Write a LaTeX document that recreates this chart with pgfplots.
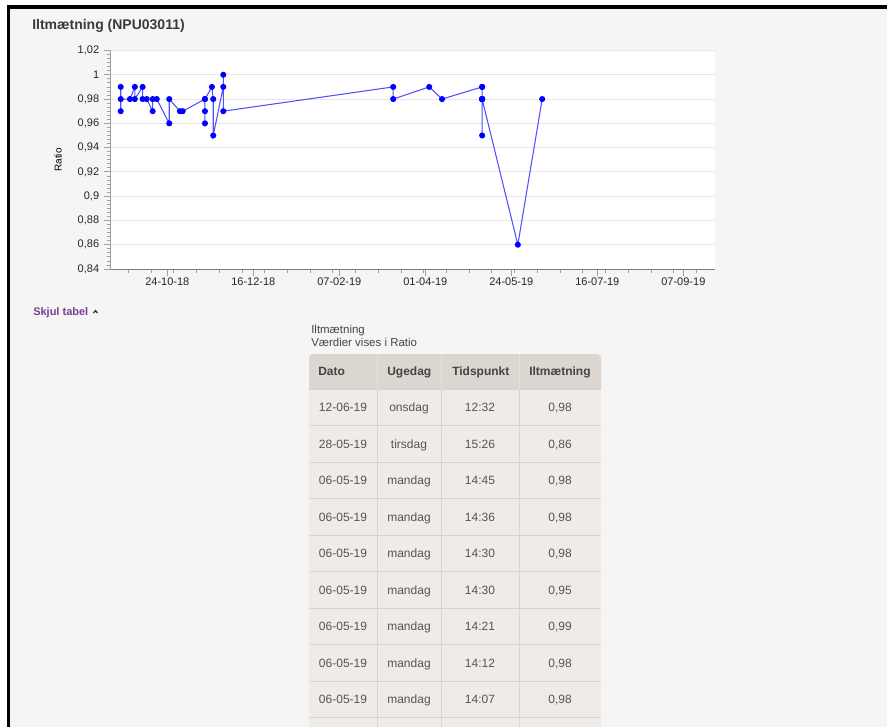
\documentclass[border=0pt]{standalone}
\usepackage{fontspec}
\setmainfont{Liberation Sans}
\usepackage{pgfplots}
\pgfplotsset{compat=1.18}
\definecolor{pagebg}{HTML}{F5F5F3}
\definecolor{titlec}{HTML}{3A3A3A}
\definecolor{purp}{HTML}{7B3C9C}
\definecolor{hdr}{HTML}{DBD6CF}
\definecolor{hdrsep}{HTML}{E6E1DB}
\definecolor{rowbg}{HTML}{EFEBE8}
\definecolor{sep}{HTML}{D9D3CC}
\definecolor{txt}{HTML}{555555}
\definecolor{hdrtxt}{HTML}{444444}
\definecolor{linec}{RGB}{80,80,255}
\definecolor{markc}{RGB}{0,0,255}
\definecolor{gridc}{HTML}{E6E6E6}
\definecolor{tickc}{HTML}{A0A0A0}
\begin{document}
\begin{tikzpicture}
\begin{scope}[x=0.75pt,y=-0.75pt]
% page
\fill[white] (0,0) rectangle (887,727);
\fill[pagebg] (10,9) rectangle (887,727);
\fill[black] (7,5) rectangle (887,9);
\fill[black] (7,5) rectangle (10,727);
% title
\node[anchor=base west, inner sep=0, font=\bfseries\fontsize{10.5pt}{12pt}\selectfont, text=titlec] at (32,29.5) {Iltmætning (NPU03011)};
% y label
\node[rotate=90, inner sep=0, font=\fontsize{7.5pt}{8pt}\selectfont, text=black] at (58,160) {Ratio};
% Skjul tabel
\node[anchor=base west, inner sep=0, font=\bfseries\fontsize{8.25pt}{9pt}\selectfont, text=purp] at (33,315) {Skjul tabel};
\draw[line width=0.9pt, black!80] (93.5,313) -- (95.5,310.5) -- (97.5,313);
% caption
\node[anchor=base west, inner sep=0, font=\fontsize{8.6pt}{9pt}\selectfont, text=hdrtxt] at (311,333) {Iltmætning};
\node[anchor=base west, inner sep=0, font=\fontsize{8.6pt}{9pt}\selectfont, text=hdrtxt] at (311,346) {Værdier vises i Ratio};
% table header
\fill[hdr, rounded corners=3pt] (309,354) rectangle (601,395);
\fill[rowbg] (309,389) rectangle (601,727);
\foreach \cx in {377,441,519} {
  \draw[hdrsep, line width=0.75pt] (\cx,354) -- (\cx,389);
  \draw[sep, line width=0.75pt] (\cx,389) -- (\cx,727);
}
\foreach \k in {0,...,9} {
  \draw[sep, line width=0.75pt] (309,389+36.5*\k) -- (601,389+36.5*\k);
}
\foreach \lx/\lab in {318/Dato,387/Ugedag,452/Tidspunkt,529/Iltmætning} {
  \node[anchor=base west, inner sep=0, font=\bfseries\fontsize{9pt}{10pt}\selectfont, text=hdrtxt] at (\lx,375.5) {\lab};
}
\foreach \da/\ug/\ti/\va [count=\i from 0] in {
  12-06-19/onsdag/12:32/0{,}98,
  28-05-19/tirsdag/15:26/0{,}86,
  06-05-19/mandag/14:45/0{,}98,
  06-05-19/mandag/14:36/0{,}98,
  06-05-19/mandag/14:30/0{,}98,
  06-05-19/mandag/14:30/0{,}95,
  06-05-19/mandag/14:21/0{,}99,
  06-05-19/mandag/14:12/0{,}98,
  06-05-19/mandag/14:07/0{,}98} {
  \pgfmathsetmacro{\by}{389+36.5*\i+18.25+4.3}
  \node[anchor=base, inner sep=0, font=\fontsize{9pt}{10pt}\selectfont, text=txt] at (343,\by) {\da};
  \node[anchor=base, inner sep=0, font=\fontsize{9pt}{10pt}\selectfont, text=txt] at (409,\by) {\ug};
  \node[anchor=base, inner sep=0, font=\fontsize{9pt}{10pt}\selectfont, text=txt] at (480,\by) {\ti};
  \node[anchor=base, inner sep=0, font=\fontsize{9pt}{10pt}\selectfont, text=txt] at (560,\by) {\va};
}
\end{scope}
\begin{axis}[
  at={(82.875pt,-201.75pt)}, anchor=south west,
  width=453.375pt, height=163.875pt, scale only axis,
  xmin=-35, xmax=337.5, ymin=0.84, ymax=1.02,
  axis x line*=bottom, axis y line*=left,
  axis background/.style={fill=white},
  xtick={0,53,106,159,212,265,318},
  xticklabels={24-10-18,16-12-18,07-02-19,01-04-19,24-05-19,16-07-19,07-09-19},
  minor xtick={-24,-10,4,18,32,46,60,74,88,102,116,130,144,158,172,186,200,214,228,242,256,270,284,298,312,326},
  ytick={0.84,0.86,0.88,0.9,0.92,0.94,0.96,0.98,1,1.02},
  minor y tick num=5,
  ymajorgrids, major grid style={gridc, line width=0.75pt},
  tick align=outside,
  major tick length=5pt, minor tick length=3pt,
  every tick/.style={color=tickc, line width=0.6pt},
  y axis line style={color=tickc, line width=0.75pt, -},
  x axis line style={color=gray, line width=0.75pt, -},
  ticklabel style={font=\fontsize{8.25pt}{9pt}\selectfont, color=black!85},
  xticklabel style={yshift=2pt},
  /pgf/number format/assume math mode=true,
  /pgf/number format/use comma,
  /pgf/number format/fixed,
  /pgf/number format/precision=2,
  clip=false,
]
\addplot[color=linec, line width=0.8pt, mark=*, mark size=1.85pt, mark options={fill=markc, draw=markc}] coordinates {
(-28.7,0.97) (-28.7,0.99) (-28.7,0.98) (-23,0.98) (-20,0.99) (-20,0.98)
(-15.2,0.99) (-15.2,0.98) (-12.7,0.98) (-9,0.97) (-9,0.98) (-6.5,0.98)
(1.2,0.96) (1.2,0.98) (7.8,0.97) (9.5,0.97) (23.2,0.98) (23.2,0.96)
(23.2,0.97) (23.2,0.98) (27.5,0.99) (28.3,0.98) (28.3,0.95) (34.5,0.99)
(34.5,1.00) (34.5,0.97) (139.2,0.99) (139.2,0.98) (161.4,0.99) (169.3,0.98)
(194,0.99) (194,0.98) (194,0.98) (194,0.99) (194,0.95) (194,0.98)
(194,0.98) (194,0.98) (216,0.86) (231,0.98)
};
\end{axis}
\end{tikzpicture}
\end{document}
